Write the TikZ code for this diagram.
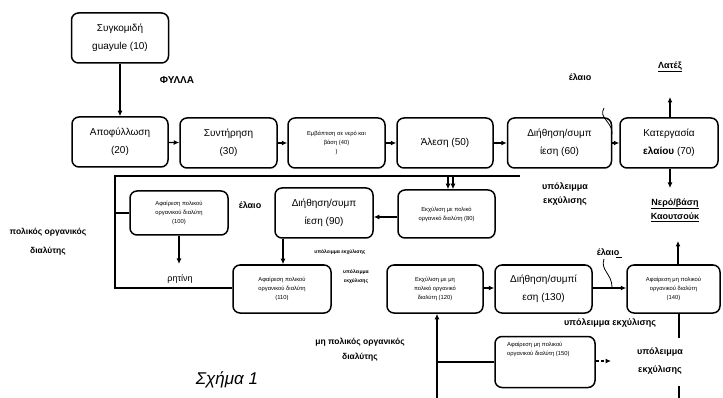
\documentclass[tikz,border=0pt]{standalone}
\usepackage{fontspec}
\setmainfont{Liberation Sans}
\usetikzlibrary{arrows.meta}
\begin{document}
\begin{tikzpicture}[x=1pt,y=-1pt,
  box/.style={draw, line width=1.5pt, rounded corners=7pt, align=center, inner sep=1pt,
              font=\fontsize{10}{18}\selectfont},
  sbox/.style={box, font=\fontsize{5.8}{9}\selectfont},
  lbl/.style={font=\bfseries\fontsize{9}{14}\selectfont, align=center, inner sep=1pt},
  slbl/.style={font=\bfseries\fontsize{5}{9}\selectfont, align=center, inner sep=1pt},
  arr/.style={line width=1.2pt, -{Latex[length=5.5pt,width=5pt]}},
  ln/.style={line width=1.2pt},
  thinln/.style={line width=0.8pt}]
\useasboundingbox (0,0) rectangle (723,398);
\fill[white] (0,0) rectangle (723,398);

% row 1
\node[box, minimum width=97pt, minimum height=50pt] (n10) at (120,38) {Συγκομιδή\\guayule (10)};
\node[box, minimum width=96pt, minimum height=50pt] (n20) at (120,142) {Αποφύλλωση\\(20)};
\node[box, minimum width=97pt, minimum height=50pt] (n30) at (228.5,143) {Συντήρηση\\(30)};
\node[sbox, minimum width=97pt, minimum height=50pt] (n40) at (336.5,143) {Εμβάπτιση σε νερό και\\βάση (40)\\)};
\node[box, minimum width=96pt, minimum height=50pt] (n50) at (445,143) {Άλεση (50)};
\node[box, minimum width=104pt, minimum height=50pt] (n60) at (559.5,143) {Διήθηση/συμπ\\ίεση (60)};
\node[box, minimum width=98pt, minimum height=50pt] (n70) at (669,143) {Κατεργασία\\\textbf{ελαίου} (70)};

% row 2
\node[sbox, minimum width=98pt, minimum height=44pt] (n100) at (179,213) {Αφαίρεση πολικού\\οργανικού διαλύτη\\(100)};
\node[box, minimum width=98pt, minimum height=50pt] (n90) at (324,213) {Διήθηση/συμπ\\ίεση (90)};
\node[sbox, minimum width=97pt, minimum height=48pt] (n80) at (446.5,214) {Εκχύλιση με πολικό\\οργανικό διαλύτη (80)};

% row 3
\node[sbox, minimum width=98pt, minimum height=48pt] (n110) at (282,289) {Αφαίρεση πολικού\\οργανικού διαλύτη\\(110)};
\node[sbox, minimum width=96pt, minimum height=48pt] (n120) at (435,289) {Εκχύλιση με μη\\πολικό οργανικό\\διαλύτη (120)};
\node[box, minimum width=97pt, minimum height=48pt] (n130) at (543.5,289) {Διήθηση/συμπί\\εση (130)};
\node[sbox, minimum width=93pt, minimum height=48pt] (n140) at (673.5,289) {Αφαίρεση μη πολικού\\οργανικού διαλύτη\\(140)};

% row 4
\node[box, minimum width=100pt, minimum height=51pt] (n150) at (545,362) {};
\node[font=\fontsize{5.8}{9}\selectfont, align=left, anchor=north west, inner sep=0pt] (t150) at (507,342) {Αφαίρεση μη πολικού\\οργανικού διαλύτη (150)};

% labels
\node[lbl, font=\bfseries\fontsize{10}{14}\selectfont] (fylla) at (177,80) {ΦΥΛΛΑ};
\node[lbl] (elaio1) at (580,77) {έλαιο};
\node[lbl] (latex) at (670,67) {\underline{Λατέξ}};
\node[lbl] (ypol60) at (565,194) {υπόλειμμα\\εκχύλισης};
\node[lbl] (nero) at (675,210) {\underline{Νερό/βάση}\\\underline{Καουτσούκ}};
\node[lbl, font=\bfseries\fontsize{8.5}{19}\selectfont] (polikos) at (48,242) {πολικός οργανικός\\διαλύτης};
\node[lbl] (elaio2) at (250,205) {έλαιο};
\node[lbl, font=\fontsize{9}{13}\selectfont] (ritini) at (180,279) {ρητίνη};
\node[slbl] (ypol90) at (340,252) {υπόλειμμα εκχύλισης};
\node[slbl] (ypol110) at (356,277) {υπόλειμμα\\εκχύλισης};
\node[lbl] (elaio3) at (608,252) {έλαιο};
\node[lbl] (ypol130) at (610,323) {υπόλειμμα εκχύλισης};
\node[lbl, font=\bfseries\fontsize{8.5}{15}\selectfont] (mipolikos) at (360,350) {μη πολικός οργανικός\\διαλύτης};
\node[lbl, font=\bfseries\fontsize{9}{18}\selectfont] (ypol140) at (660,361) {υπόλειμμα\\εκχύλισης};
\node[font=\itshape\fontsize{17}{20}\selectfont] (sxima) at (227,380) {Σχήμα 1};

% coordinates
\coordinate (latexEnd) at (670,97);
\coordinate (neroEnd) at (670,188);
\coordinate (kaouEnd) at (678,241);
\coordinate (sL) at (115,176);
\coordinate (sR) at (520,176);
\coordinate (s80a) at (448,176);
\coordinate (s80b) at (453,176);
\coordinate (sM) at (115,213);
\coordinate (sB) at (115,288);
\coordinate (ritEnd) at (179,264);
\coordinate (np0) at (437,398);
\coordinate (npM) at (437,362);
\coordinate (d150) at (611,361);
\coordinate (r140a) at (679,338);
\coordinate (r140b) at (679,386);
\coordinate (r140c) at (679,398);

% connectors row 1
\draw[arr] (n10.south -| n20.north) -- (n20.north);
\draw[arr] (n20) -- (n30);
\draw[arr] (n30) -- (n40);
\draw[arr] (n40) -- (n50);
\draw[arr] (n50) -- (n60);
\draw[arr] (n60) -- (n70);
\draw[arr] (n70.north -| latexEnd) -- (latexEnd);
\draw[arr] (n70.south -| neroEnd) -- (neroEnd);

% solvent line
\draw[ln] (sR) -- (sL) -- (sB) -- (sB -| n110.west);
\draw[ln] (sM) -- (sM -| n100.west);
\draw[arr] (s80a) -- (s80a |- n80.north);
\draw[arr] (s80b) -- (s80b |- n80.north);

% row 2
\draw[arr] (n80.west |- 0,217) -- (n90.east |- 0,217);
\draw[arr] ([xshift=-41pt]n90.south) -- ([xshift=-41pt]n90.south |- n110.north);
\draw[arr] (n100.south) -- (ritEnd);

% row 3
\draw[arr] (n120.east |- 0,288) -- (n130.west |- 0,288);
\draw[arr] (n130.east |- 0,288) -- (n140.west |- 0,288);
\draw[arr] (n140.north -| kaouEnd) -- (kaouEnd);
\draw[ln] (n140.south -| r140a) -- (r140a);
\draw[ln] (r140b) -- (r140c);

% non-polar solvent
\draw[arr] (np0) -- (np0 |- n120.south);
\draw[ln] (npM) -- (npM -| n150.west);
\draw[line width=1.2pt, dash pattern=on 3pt off 2pt, -{Latex[length=5.5pt,width=5pt]}] (n150.east |- d150) -- (d150);

% small oil marks
\draw[thinln] (604,108) .. controls (598,118) and (613,122) .. (612,134);
\draw[thinln] (604,259) .. controls (600,270) and (612,274) .. (612,287);
\draw[thinln] (616,257) -- (622,257);
\end{tikzpicture}
\end{document}
